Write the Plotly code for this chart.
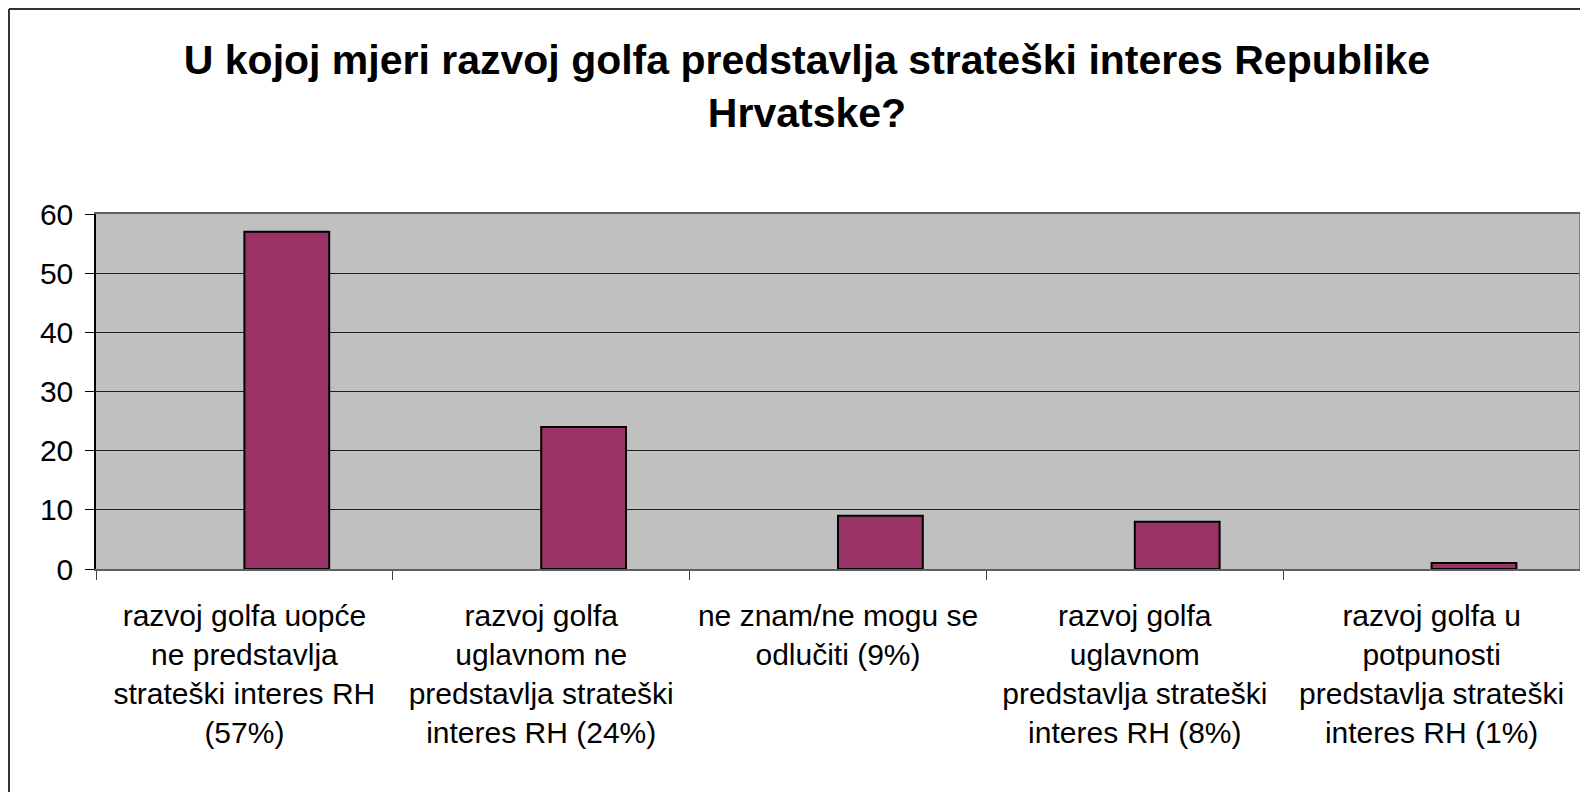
import plotly.graph_objects as go

categories = [
    "razvoj golfa uopće<br>ne predstavlja<br>strateški interes RH<br>(57%)",
    "razvoj golfa<br>uglavnom ne<br>predstavlja strateški<br>interes RH (24%)",
    "ne znam/ne mogu se<br>odlučiti (9%)",
    "razvoj golfa<br>uglavnom<br>predstavlja strateški<br>interes RH (8%)",
    "razvoj golfa u<br>potpunosti<br>predstavlja strateški<br>interes RH (1%)",
]
empty_series = [None, None, None, None, None]
values = [57, 24, 9, 8, 1]
y_ticks = [0, 10, 20, 30, 40, 50, 60]

# page has an 8px body margin; the figure sits at (8, 8)
W, H = 1580, 784
L, R, T, B = 88, 8, 206, 223

fig = go.Figure()
fig.add_trace(go.Bar(x=categories, y=empty_series, marker_color="#9999FF", showlegend=False))
fig.add_trace(go.Bar(x=categories, y=values, marker=dict(color="#993366", line=dict(color="black", width=2)), showlegend=False))

pw = W - L - R
ph = H - T - B
fig.update_layout(
    width=W, height=H,
    margin=dict(l=L, r=R, t=T, b=B, autoexpand=False),
    paper_bgcolor="white", plot_bgcolor="#C0C0C0",
    barmode="group", bargap=1.5/3.5, bargroupgap=0,
    font=dict(family="Liberation Sans, Arial, sans-serif", color="black"),
    title=dict(
        text="U kojoj mjeri razvoj golfa predstavlja strateški interes Republike<br>Hrvatske?",
        font=dict(size=41, family="Liberation Sans, Arial, sans-serif", weight="bold", color="black"),
        x=799/W, xanchor="center", xref="container", y=1 - 66/H, yanchor="middle", yref="container",
    ),
    xaxis=dict(
        type="category", showgrid=False, ticks="outside", tickson="boundaries", ticklen=9,
        tickcolor="#404040", showline=True, linecolor="#606060", linewidth=1.5, mirror=True,
        tickfont=dict(size=30), ticklabelstandoff=19,
    ),
    yaxis=dict(
        range=[0, 60], tickvals=y_ticks, ticks="outside", ticklen=9, tickcolor="black",
        showgrid=True, gridcolor="#202020", gridwidth=1, showline=True, linecolor="black",
        linewidth=1.5, tickfont=dict(size=30), zeroline=False, ticklabelstandoff=6,
    ),
    shapes=[
        dict(type="line", xref="paper", yref="paper", x0=1, x1=1, y0=0, y1=1, line=dict(color="#808080", width=2)),
        dict(type="line", xref="paper", yref="paper", x0=(1 - L)/pw, x1=(W + 20 - L)/pw,
             y0=(H - B - 1)/ph, y1=(H - B - 1)/ph, line=dict(color="#333333", width=2)),
        dict(type="line", xref="paper", yref="paper", x0=(1 - L)/pw, x1=(1 - L)/pw,
             y0=(H - B - 1)/ph, y1=-(B + 20)/ph, line=dict(color="#333333", width=2)),
    ],
)
fig.write_html("out.html")
